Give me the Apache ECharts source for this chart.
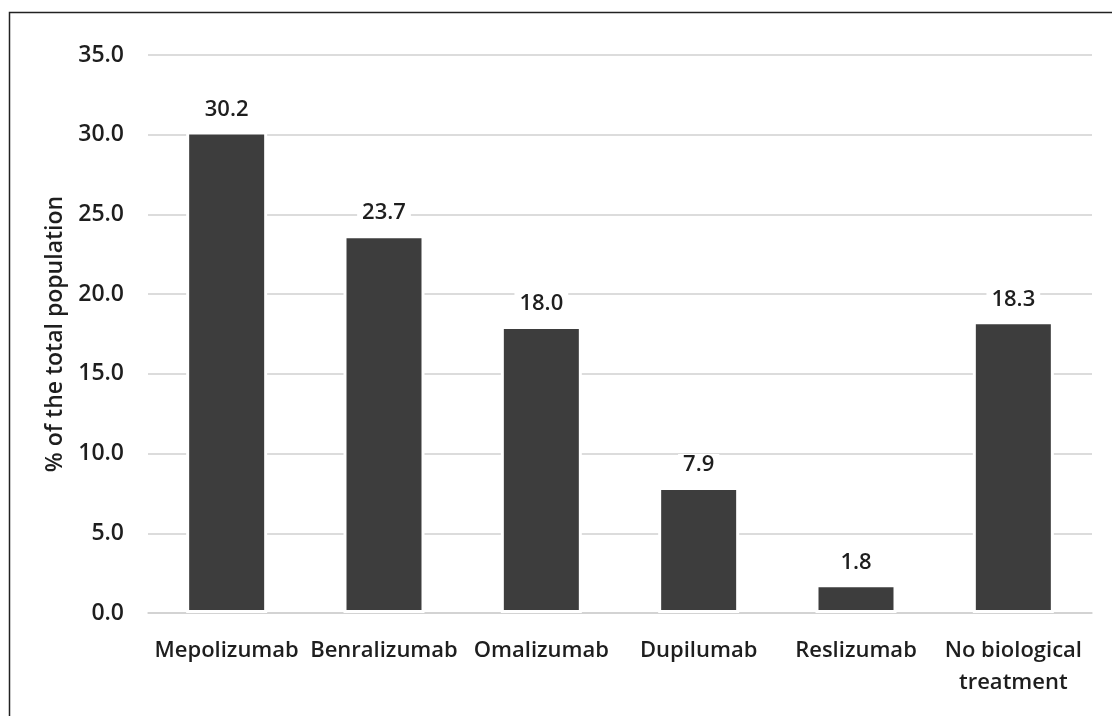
<!DOCTYPE html>
<html>
<head>
<meta charset="utf-8">
<script src="https://cdn.jsdelivr.net/npm/echarts@6/dist/echarts.min.js"></script>
<style>
html,body{margin:0;padding:0;background:#fff;}
#chart{width:1112px;height:716px;}
</style>
</head>
<body>
<div id="chart"></div>
<script>
const categories = ['Mepolizumab', 'Benralizumab', 'Omalizumab', 'Dupilumab', 'Reslizumab', 'No biological\ntreatment'];
const values = [30.2, 23.7, 18.0, 7.9, 1.8, 18.3];
const yTicks = [0, 5, 10, 15, 20, 25, 30, 35];
const yAxisTitle = '% of the total population';

const FONT = '"Open Sans", "DejaVu Sans", sans-serif';
const TEXT = '#1e1e1e';
const FS = 22;
const FW = 600;
const chart = echarts.init(document.getElementById('chart'), null, {renderer: 'canvas'});
chart.setOption({
  backgroundColor: '#ffffff',
  animation: false,
  grid: {left: 148, right: 20, top: 55, bottom: 103, containLabel: false},
  xAxis: {
    type: 'category',
    data: categories,
    axisLine: {show: true, lineStyle: {color: '#d0d0d0', width: 1.5}},
    axisTick: {show: false},
    axisLabel: {color: TEXT, fontFamily: FONT, fontSize: FS, fontWeight: FW, margin: 22, lineHeight: 32, interval: 0}
  },
  yAxis: {
    type: 'value',
    min: yTicks[0],
    max: yTicks[yTicks.length - 1],
    interval: 5,
    name: yAxisTitle,
    nameLocation: 'middle',
    nameGap: 81,
    nameTextStyle: {color: TEXT, fontFamily: FONT, fontSize: 23, fontWeight: FW},
    axisLine: {show: false},
    axisTick: {show: false},
    splitLine: {lineStyle: {color: '#d0d0d0', width: 1.5}},
    axisLabel: {color: TEXT, fontFamily: FONT, fontSize: 23, fontWeight: FW, margin: 24,
      formatter: v => v.toFixed(1)}
  },
  series: [{
    type: 'bar',
    data: values,
    barWidth: 81,
    itemStyle: {color: '#3d3d3d', borderColor: '#ffffff', borderWidth: 3},
    label: {
      show: true, position: 'top', distance: 11,
      color: TEXT, fontFamily: FONT, fontSize: FS, fontWeight: FW,
      backgroundColor: '#ffffff', padding: [0, 5],
      formatter: p => p.value.toFixed(1)
    }
  }],
  graphic: [{
    type: 'polyline',
    shape: {points: [[9.5, 716], [9.5, 12.5], [1112, 12.5]]},
    style: {stroke: '#222222', lineWidth: 1.5, fill: null},
    silent: true
  }]
});
</script>
</body>
</html>
